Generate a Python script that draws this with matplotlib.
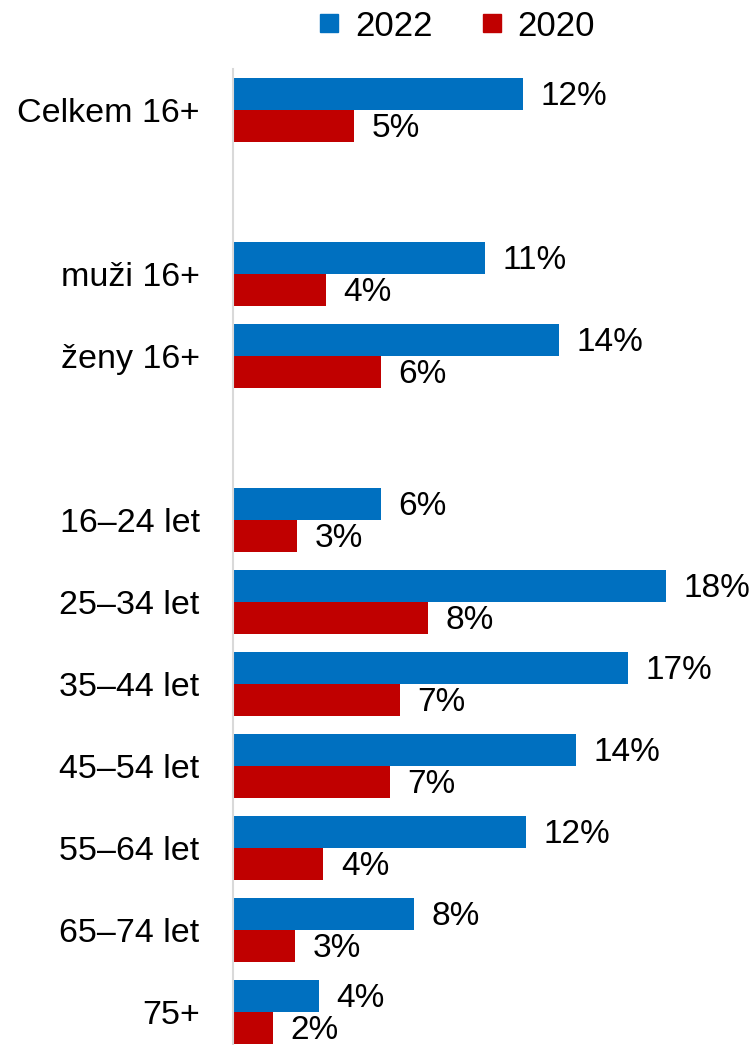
import numpy as np
import matplotlib.pyplot as plt
from matplotlib.lines import Line2D

plt.rcParams['font.family'] = ['Liberation Sans', 'DejaVu Sans']

# data (percent), None = empty spacer row
categories = ["Celkem 16+", None, "muži 16+", "ženy 16+", None,
              "16–24 let", "25–34 let", "35–44 let", "45–54 let",
              "55–64 let", "65–74 let", "75+"]
v2022 = [12.2, None, 10.6, 13.7, None, 6.2, 18.2, 16.6, 14.4, 12.3, 7.6, 3.6]
v2020 = [5.1, None, 3.9, 6.2, None, 2.7, 8.2, 7.0, 6.6, 3.8, 2.6, 1.7]

blue = "#0070C0"
red = "#C00000"

fig = plt.figure(figsize=(7.53, 10.45), dpi=100)
ax = fig.add_axes([233/753, 0, 1 - 233/753, 1 - 69/1045])

pos = np.arange(len(categories))
h = 0.39
for i, (a, b) in enumerate(zip(v2022, v2020)):
    if a is None:
        continue
    ax.barh(pos[i] - h/2, a, height=h, color=blue)
    ax.barh(pos[i] + h/2, b, height=h, color=red)
    ax.annotate(f"{a:.0f}%", (a, pos[i] - h/2), xytext=(12.5, -2),
                textcoords="offset points", ha="left", va="center", fontsize=24)
    ax.annotate(f"{b:.0f}%", (b, pos[i] + h/2), xytext=(12.5, -2),
                textcoords="offset points", ha="left", va="center", fontsize=24)

ticks = [p for p, c in zip(pos, categories) if c is not None]
labels = [c for c in categories if c is not None]
ax.set_yticks(ticks)
ax.set_yticklabels(labels, fontsize=24.5)
ax.tick_params(axis="y", length=0, pad=24)
ax.set_xticks([])
ax.set_xlim(0, 21.85)
ax.set_ylim(11.4, -0.5)
for s in ["top", "right", "bottom"]:
    ax.spines[s].set_visible(False)
ax.spines["left"].set_color("#d9d9d9")
ax.spines["left"].set_linewidth(1.5)

handles = [Line2D([], [], ls="none", marker="s", markersize=13, color=blue),
           Line2D([], [], ls="none", marker="s", markersize=13, color=red)]
fig.legend(handles, ["2022", "2020"], loc="center", ncol=2, frameon=False,
           bbox_to_anchor=(456/753, 1 - 26/1045), fontsize=25,
           handlelength=0.7, handletextpad=0.4, columnspacing=1.35)

fig.savefig("out.png", dpi=100)
